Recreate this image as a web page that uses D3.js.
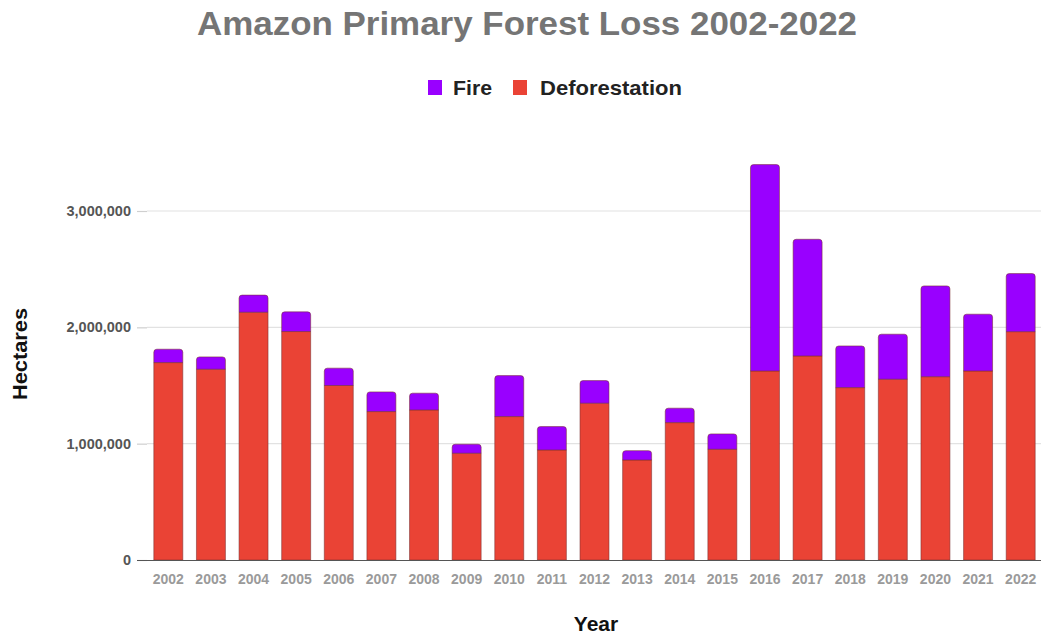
<!DOCTYPE html>
<html><head><meta charset="utf-8">
<script src="https://cdn.jsdelivr.net/npm/d3@7"></script>
<style>body{margin:0;background:#fff;}svg{display:block;font-family:Arial,"Liberation Sans",sans-serif;}</style>
</head><body>
<svg id="c" width="1041" height="639"></svg>
<script>
const years = ["2002","2003","2004","2005","2006","2007","2008","2009","2010","2011","2012","2013","2014","2015","2016","2017","2018","2019","2020","2021","2022"];
const deforestation = [1697000,1640000,2130000,1964000,1500000,1276000,1290000,918000,1233000,946000,1348000,860000,1181000,952000,1625000,1754000,1482000,1554000,1576000,1625000,1963000];
const fire = [115000,106000,147000,169000,149000,169000,144000,77000,352000,201000,194000,80000,124000,132000,1774000,1003000,358000,387000,780000,488000,499000];
const yTicks = [0,1000000,2000000,3000000];
const seriesNames = ["Fire","Deforestation"];
const colors = {Fire:"#9900ff", Deforestation:"#ea4335"};
const FONT = "Arial,'Liberation Sans',sans-serif";

const svg = d3.select("#c");
const x = d3.scaleBand().domain(years).range([147,1042]).paddingInner(0.32).paddingOuter(0.16);
const y = d3.scaleLinear().domain([0,3000000]).range([560,211]);

// gridlines
svg.append("g").selectAll("line").data(yTicks.filter(d=>d>0)).join("line")
  .attr("x1",147).attr("x2",1041).attr("y1",d=>y(d)).attr("y2",d=>y(d))
  .attr("stroke","#e2e2e2").attr("stroke-width",1.2);

// y axis labels + small tick dashes
const yAxis = d3.axisLeft(y).tickValues(yTicks).tickFormat(d3.format(",")).tickSize(10).tickPadding(6);
const ya = svg.append("g").attr("transform","translate(147,0)").call(yAxis);
ya.select(".domain").remove();
ya.selectAll(".tick line").attr("stroke","#cfcfcf").attr("stroke-width",1.2);
ya.selectAll("text").attr("font-size",14.5).attr("fill","#555").attr("font-weight","bold").attr("font-family",FONT);

// stacked bars
const data = years.map((yr,i)=>({year:yr, Deforestation:deforestation[i], Fire:fire[i]}));
const stack = d3.stack().keys(["Deforestation","Fire"])(data);
const r = 3;
function barPath(x0,w,y0,y1,round){
  if(!round) return `M${x0},${y0}V${y1}H${x0+w}V${y0}Z`;
  return `M${x0},${y0}V${y1+r}Q${x0},${y1} ${x0+r},${y1}H${x0+w-r}Q${x0+w},${y1} ${x0+w},${y1+r}V${y0}Z`;
}
stack.forEach(layer=>{
  svg.append("g").selectAll("path").data(layer).join("path")
    .attr("d",d=>barPath(x(d.data.year),x.bandwidth(),y(d[0]),y(d[1]),layer.key==="Fire"))
    .attr("fill",colors[layer.key])
    .attr("stroke","#7a3030").attr("stroke-opacity",0.55).attr("stroke-width",1);
});

// baseline
svg.append("line").attr("x1",137).attr("x2",1041).attr("y1",560.5).attr("y2",560.5).attr("stroke","#555").attr("stroke-width",1.2);

// x axis
const xAxis = d3.axisBottom(x).tickSize(0).tickPadding(13);
const xa = svg.append("g").attr("transform","translate(0,561)").call(xAxis);
xa.select(".domain").remove();
xa.selectAll("text").attr("font-size",14).attr("fill","#9a9a9a").attr("font-weight","bold").attr("font-family",FONT);

// title
svg.append("text").attr("x",527).attr("y",35).attr("text-anchor","middle")
  .attr("font-size",33).attr("font-weight","bold").attr("fill","#757575")
  .attr("textLength",660).attr("lengthAdjust","spacingAndGlyphs")
  .text("Amazon Primary Forest Loss 2002-2022");

// legend
const legend = [{name:"Fire",sx:428,tx:453,tl:39},{name:"Deforestation",sx:513,tx:540,tl:142}];
legend.forEach(l=>{
  svg.append("rect").attr("x",l.sx).attr("y",80).attr("width",14).attr("height",15).attr("fill",colors[l.name]);
  svg.append("text").attr("x",l.tx).attr("y",95).attr("font-size",21).attr("font-weight","bold").attr("fill","#222")
    .attr("textLength",l.tl).attr("lengthAdjust","spacingAndGlyphs").text(l.name);
});

// axis titles
svg.append("text").attr("transform","translate(27,354) rotate(-90)").attr("text-anchor","middle")
  .attr("font-size",21).attr("font-weight","bold").attr("fill","#111")
  .attr("textLength",92).attr("lengthAdjust","spacingAndGlyphs").text("Hectares");
svg.append("text").attr("x",596).attr("y",631).attr("text-anchor","middle")
  .attr("font-size",21).attr("font-weight","bold").attr("fill","#111").text("Year");
</script>
</body></html>
